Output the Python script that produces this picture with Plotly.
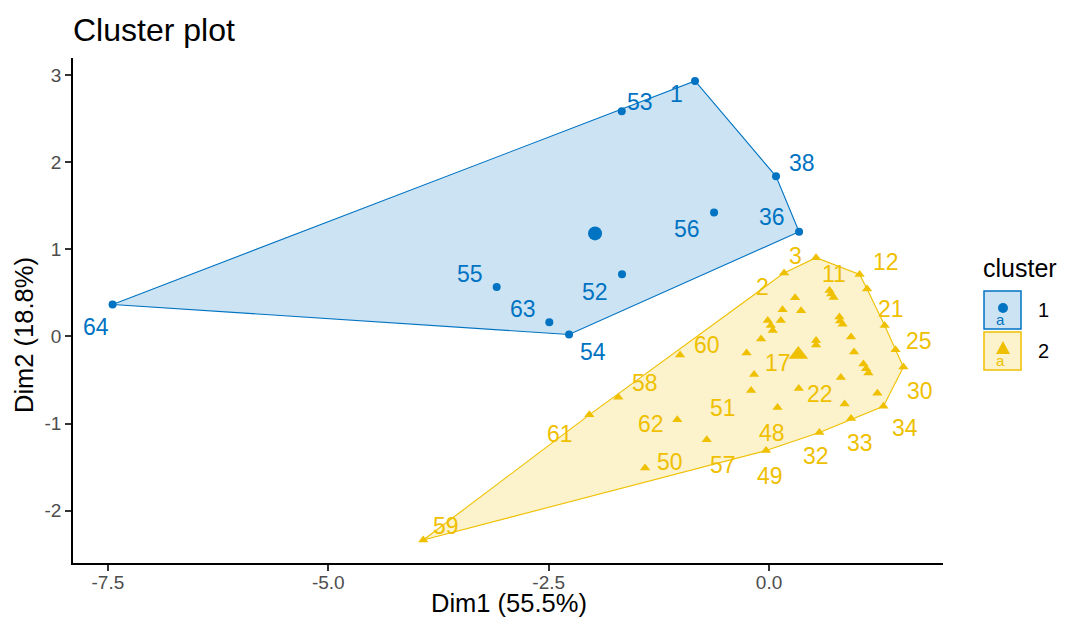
import plotly.graph_objects as go

# ---------------- data ----------------
c1_ids = ["1", "53", "38", "36", "56", "52", "55", "63", "54", "64"]
c1_x = [-0.840, -1.671, 0.079, 0.340, -0.624, -1.668, -3.090, -2.493, -2.269, -7.447]
c1_y = [2.934, 2.586, 1.839, 1.203, 1.425, 0.716, 0.567, 0.164, 0.023, 0.368]

c2_ids = ["59", "61", "58", "60", "50", "62", "57", "49", "48", "51", "17", "2", "3",
          "11", "12", "21", "25", "30", "34", "33", "32", "22",
          "4", "5", "6", "7", "8", "9", "10", "13", "14", "15", "16", "18", "19",
          "20", "23", "24", "26", "27", "28", "29", "31", "35", "37", "39", "40"]
c2_x = [-3.923, -2.039, -1.710, -1.010, -1.407, -1.041, -0.707, -0.034, 0.096, -0.204,
        -0.170, 0.170, 0.533, 0.686, 1.027, 1.311, 1.435, 1.524, 1.297, 0.930, 0.571,
        0.337,
        -0.255, -0.091, -0.015, 0.019, 0.042, 0.133, 0.153, 0.295, 0.363, 0.704, 0.732,
        1.112, 0.814, 0.857, 1.229, 0.964, 1.070, 1.101, 1.127, 0.930, 0.798, 0.806,
        0.834, 0.533, 0.533]
c2_y = [-2.337, -0.900, -0.698, -0.213, -1.509, -0.956, -1.186, -1.310, -0.816, -0.621,
        -0.437, 0.730, 0.905, 0.529, 0.713, 0.126, -0.153, -0.351, -0.802, -0.943, -1.103,
        -0.598,
        -0.190, -0.029, 0.184, 0.126, 0.069, 0.184, 0.307, 0.445, 0.295, 0.489, 0.448,
        0.546, -0.471, -0.776, -0.652, -0.178, -0.316, -0.371, -0.420, -0.006, 0.224,
        0.178, 0.141, -0.046, -0.098]

centroid_x = [-1.974, 0.332]
centroid_y = [1.184, -0.207]

x_ticks = [-7.5, -5.0, -2.5, 0.0]
y_ticks = [-2, -1, 0, 1, 2, 3]
cluster_names = ["1", "2"]

# ---------------- styles ----------------
BLUE = "#0073C2"
YELLOW = "#EFC000"
FILL_BLUE = "rgba(0,115,194,0.2)"
FILL_YELLOW = "rgba(239,192,0,0.2)"
FONT = "Liberation Sans, Arial, sans-serif"

# label offsets in pixels (dx right, dy down) for the labels that are shown
label_off_1 = {"1": (-19, 13), "53": (18, -9), "38": (26, -13), "36": (-27, -15),
               "56": (-27, 17), "52": (-27, 18), "55": (-27, -13), "63": (-26, -13),
               "54": (24, 18), "64": (-17, 23)}
label_off_2 = {"59": (23, -14), "61": (-29, 19), "58": (27, -14), "60": (27, -10),
               "50": (25, -6), "62": (-26, 4), "57": (16, 25), "49": (4, 25),
               "48": (-6, 25), "51": (-28, 17), "17": (24, -12), "22": (21, 5),
               "2": (-22, 14), "3": (-21, -2), "11": (4, -16), "12": (26, -12),
               "21": (6, -17), "25": (23, -9), "30": (17, 24), "34": (22, 22),
               "33": (9, 24), "32": (-3, 23)}


def hull(xs, ys):
    pts = sorted(set(zip(xs, ys)))
    if len(pts) < 3:
        return pts

    def cross(o, a, b):
        return (a[0] - o[0]) * (b[1] - o[1]) - (a[1] - o[1]) * (b[0] - o[0])

    lower, upper = [], []
    for p in pts:
        while len(lower) >= 2 and cross(lower[-2], lower[-1], p) <= 0:
            lower.pop()
        lower.append(p)
    for p in reversed(pts):
        while len(upper) >= 2 and cross(upper[-2], upper[-1], p) <= 0:
            upper.pop()
        upper.append(p)
    h = lower[:-1] + upper[:-1]
    return h + [h[0]]


fig = go.Figure()

for xs, ys, col, fc in [(c1_x, c1_y, BLUE, FILL_BLUE), (c2_x, c2_y, YELLOW, FILL_YELLOW)]:
    h = hull(xs, ys)
    fig.add_trace(go.Scatter(x=[p[0] for p in h], y=[p[1] for p in h], mode="lines",
                             fill="toself", fillcolor=fc, line=dict(color=col, width=1.1),
                             hoverinfo="skip", showlegend=False))

fig.add_trace(go.Scatter(x=c1_x, y=c1_y, mode="markers", text=c1_ids,
                         marker=dict(symbol="circle", size=8, color=BLUE, line=dict(width=0)),
                         showlegend=False))
fig.add_trace(go.Scatter(x=c2_x, y=c2_y, mode="markers", text=c2_ids,
                         marker=dict(symbol="triangle-up", size=9, color=YELLOW, line=dict(width=0)),
                         showlegend=False))
fig.add_trace(go.Scatter(x=centroid_x[:1], y=centroid_y[:1], mode="markers",
                         marker=dict(symbol="circle", size=14, color=BLUE, line=dict(width=0)),
                         showlegend=False))
fig.add_trace(go.Scatter(x=centroid_x[1:], y=centroid_y[1:], mode="markers",
                         marker=dict(symbol="triangle-up", size=17, color=YELLOW, line=dict(width=0)),
                         showlegend=False))

annotations = []
for ids, xs, ys, offs, col in [(c1_ids, c1_x, c1_y, label_off_1, BLUE),
                               (c2_ids, c2_x, c2_y, label_off_2, YELLOW)]:
    for i, x, y in zip(ids, xs, ys):
        if i in offs:
            dx, dy = offs[i]
            annotations.append(dict(x=x, y=y, xref="x", yref="y", text=i, showarrow=False,
                                    xshift=dx, yshift=-dy,
                                    font=dict(family=FONT, size=23, color=col)))

# the page body has an 8px margin: design in window pixels, shift by OFF
OFF = 8
FW, FH = 1065 - OFF, 630 - OFF
L, R, T, B = 73 - OFF, 943 - OFF, 58 - OFF, 563 - OFF
W, H = R - L, B - T


def px(xp):
    return (xp - OFF - L) / W


def py(yp):
    return (B - (yp - OFF)) / H


# axis titles
annotations.append(dict(x=px(509), y=py(603), xref="paper", yref="paper", text="Dim1 (55.5%)",
                        showarrow=False, font=dict(family=FONT, size=25.5, color="black"),
                        xanchor="center", yanchor="middle"))
annotations.append(dict(x=px(24), y=py(335), xref="paper", yref="paper", text="Dim2 (18.8%)",
                        showarrow=False, textangle=-90,
                        font=dict(family=FONT, size=25.5, color="black"),
                        xanchor="center", yanchor="middle"))

# legend (manual)
annotations.append(dict(x=px(981), y=py(268), xref="paper", yref="paper", text="cluster",
                        showarrow=False, font=dict(family=FONT, size=25, color="black"),
                        xanchor="left", yanchor="middle"))
shapes = []
key_rows = [(291, 329, BLUE, FILL_BLUE), (332, 370, YELLOW, FILL_YELLOW)]
for name, (y0, y1, col, fc) in zip(cluster_names, key_rows):
    shapes.append(dict(type="rect", xref="paper", yref="paper",
                       x0=px(984), x1=px(1021), y0=py(y1), y1=py(y0),
                       line=dict(color=col, width=1.5), fillcolor=fc, layer="above"))
    annotations.append(dict(x=px(1000.5), y=py((y0 + y1) / 2 + 9), xref="paper", yref="paper",
                            text="a", showarrow=False,
                            font=dict(family=FONT, size=15, color=col),
                            xanchor="center", yanchor="middle"))
    annotations.append(dict(x=px(1036), y=py((y0 + y1) / 2), xref="paper", yref="paper",
                            text=name, showarrow=False,
                            font=dict(family=FONT, size=20, color="black"),
                            xanchor="left", yanchor="middle"))

cx, cy = px(1003), py(308)
shapes.append(dict(type="circle", xref="paper", yref="paper", xsizemode="pixel",
                   ysizemode="pixel", xanchor=cx, yanchor=cy, x0=-5, x1=5, y0=-5, y1=5,
                   fillcolor=BLUE, line=dict(width=0), layer="above"))
tx, ty = px(1003), py(349)
shapes.append(dict(type="path", xref="paper", yref="paper", xsizemode="pixel",
                   ysizemode="pixel", xanchor=tx, yanchor=ty,
                   path="M -7 -5 L 7 -5 L 0 8 Z",
                   fillcolor=YELLOW, line=dict(width=0), layer="above"))

fig.update_layout(
    width=FW, height=FH,
    margin=dict(l=L, r=FW - R, t=T, b=FH - B),
    paper_bgcolor="white", plot_bgcolor="white",
    title=dict(text="Cluster plot", x=(73 - OFF) / FW, xref="container", xanchor="left",
               y=1 - (30 - OFF) / FH, yref="container", yanchor="middle",
               font=dict(family=FONT, size=32, color="black")),
    xaxis=dict(range=[-7.896, 1.973], tickvals=x_ticks, ticktext=[f"{v:.1f}" for v in x_ticks],
               showgrid=False, zeroline=False, showline=True, linecolor="black", linewidth=1.5,
               ticks="outside", ticklen=6, tickwidth=1.5, tickcolor="#333333",
               ticklabelstandoff=-5,
               tickfont=dict(family=FONT, size=19, color="#4D4D4D")),
    yaxis=dict(range=[-2.601, 3.198], tickvals=y_ticks, ticktext=[str(v) for v in y_ticks],
               showgrid=False, zeroline=False, showline=True, linecolor="black", linewidth=1.5,
               ticks="outside", ticklen=6, tickwidth=1.5, tickcolor="#333333",
               tickfont=dict(family=FONT, size=19, color="#4D4D4D")),
    annotations=annotations,
    shapes=shapes,
    showlegend=False,
)

fig.write_html("out.html")
